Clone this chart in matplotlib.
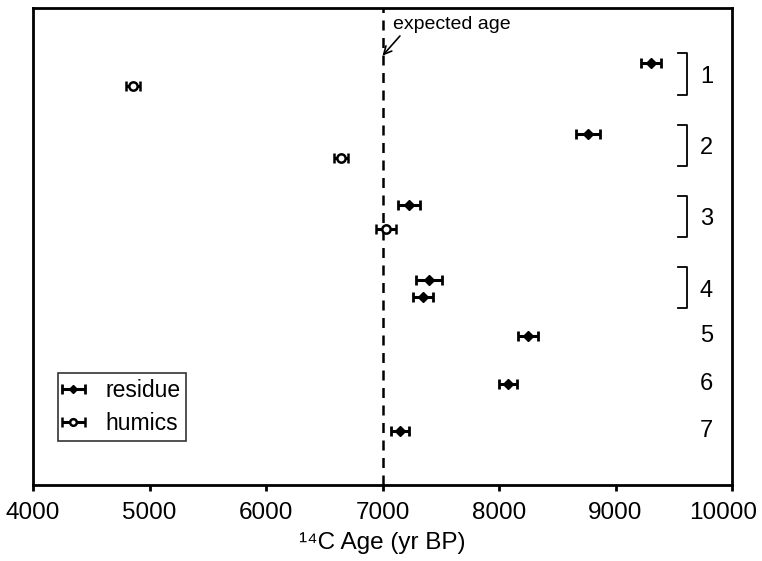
import numpy as np
import matplotlib
matplotlib.use('Agg')
import matplotlib.pyplot as plt
import matplotlib.transforms as mtrans

plt.rcParams['font.family'] = ['Liberation Sans', 'DejaVu Sans']

# residue fraction ages (yr BP), 1-sigma errors, row position
res_age = [9305, 8764, 7227, 7399, 7348, 8249, 8077, 7150]
res_err = [85, 100, 95, 110, 85, 85, 75, 80]
res_y = [1.15, 2.64, 4.13, 5.70, 6.06, 6.88, 7.88, 8.87]

# humic fraction ages
hum_age = [4860, 6644, 7030]
hum_err = [60, 60, 90]
hum_y = [1.64, 3.14, 4.63]

expected = 7000

# sample groups: label, y top, y bottom (bracket), label y
grp_labels = ['1', '2', '3', '4', '5', '6', '7']
grp_top = [0.95, 2.45, 3.94, 5.43, None, None, None]
grp_bot = [1.82, 3.31, 4.80, 6.29, None, None, None]
grp_ly = [1.44, 2.93, 4.42, 5.93, 6.88, 7.88, 8.87]

fig = plt.figure(figsize=(7.62, 5.61), dpi=100)
ax = fig.add_axes([33/762, 1-485/561, 699/762, 477/561])

ax.axvline(expected, color='black', ls=(0, (4, 3)), lw=1.8, zorder=1)

ax.errorbar(res_age, res_y, xerr=res_err, fmt='D', color='black', ms=5.5,
            elinewidth=2.2, capsize=3.5, capthick=2, label='residue', zorder=3)
ax.errorbar(hum_age, hum_y, xerr=hum_err, fmt='o', mfc='white', mec='black',
            mew=1.8, color='black', ms=6, elinewidth=2.2, capsize=3.5, capthick=2,
            label='humics', zorder=3)

# group brackets and numbers
bx0, bx1 = 9535, 9615
for lab, t, b, ly in zip(grp_labels, grp_top, grp_bot, grp_ly):
    if t is not None:
        ax.plot([bx0, bx1, bx1, bx0], [t, t, b, b], color='black', lw=1.3)
    ax.text(9780, ly, lab, ha='center', va='center', fontsize=17)

ax.annotate('expected age', xy=(expected, 1.0), xytext=(expected + 90, 0.35),
            fontsize=14, ha='left', va='center',
            arrowprops=dict(arrowstyle='->', color='black', lw=1.2,
                            shrinkA=0, shrinkB=0, relpos=(0.08, 0.0)))

ax.set_xlim(4000, 10000)
ax.set_ylim(10, 0)
ax.set_xticks(np.arange(4000, 10001, 1000))
ax.set_yticks([])
ax.tick_params(axis='x', direction='out', length=4, width=2, labelsize=17.5, pad=8)
for s in ax.spines.values():
    s.set_linewidth(2)

# last tick label sits a little left so it stays inside the figure
last = ax.get_xticklabels()[-1]
last.set_transform(last.get_transform() +
                   mtrans.ScaledTranslation(-9/100, 0, fig.dpi_scale_trans))

ax.set_xlabel('¹⁴C Age (yr BP)', fontsize=17.5, labelpad=6)

leg = ax.legend(loc='lower left', bbox_to_anchor=(0.036, 0.092), fontsize=16.5,
                frameon=True, fancybox=False, edgecolor='black',
                handlelength=0.8, handletextpad=1.0, borderpad=0.25,
                labelspacing=0.45, borderaxespad=0, markerscale=0.8)
leg.get_frame().set_linewidth(1.2)

fig.savefig('out.png', dpi=100)
